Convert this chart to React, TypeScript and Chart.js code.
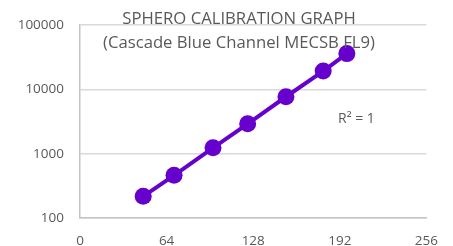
import React, { useEffect, useRef } from "react";
import { Chart, registerables } from "chart.js";

Chart.register(...registerables);

const channelValues = [46.7, 69.5, 98.3, 123.9, 152.2, 179.7, 197.2];
const mecsbValues = [217, 461, 1231, 2912, 7670, 19200, 35900];
const xTicks = [0, 64, 128, 192, 256];
const yTicks = [100, 1000, 10000, 100000];
const titleLines = ["SPHERO CALIBRATION GRAPH", "(Cascade Blue Channel MECSB FL9)"];
const rSquaredLabel = "R² = 1";

const FONT = "'Open Sans', sans-serif";
const TEXT = "#595959";
const PURPLE = "#6600cc";

const overlayPlugin = {
  id: "overlayText",
  afterDraw(chart: any) {
    const ctx = chart.ctx;
    ctx.save();
    ctx.fillStyle = TEXT;
    ctx.textAlign = "center";
    ctx.textBaseline = "middle";
    ctx.font = `16.7px ${FONT}`;
    ctx.fillText(titleLines[0], 239, 19);
    ctx.fillText(titleLines[1], 239, 43);
    ctx.font = `14px ${FONT}`;
    ctx.textAlign = "left";
    ctx.fillText(rSquaredLabel, 338, 119);
    ctx.restore();
  },
};

export default function App() {
  const ref = useRef<HTMLCanvasElement>(null);
  useEffect(() => {
    if (!ref.current) return;
    const chart = new Chart(ref.current, {
      type: "scatter",
      data: {
        datasets: [
          {
            data: channelValues.map((x, i) => ({ x, y: mecsbValues[i] })),
            showLine: true,
            borderColor: PURPLE,
            backgroundColor: PURPLE,
            borderWidth: 4,
            pointRadius: 8.5,
            pointHoverRadius: 8.5,
            pointBorderWidth: 0,
          },
        ],
      },
      options: {
        animation: false,
        responsive: false,
        layout: { padding: { top: 25, right: 16, left: 0, bottom: 0 } },
        plugins: { legend: { display: false }, tooltip: { enabled: false }, title: { display: false } },
        scales: {
          x: {
            type: "linear",
            min: 0,
            max: 256,
            afterBuildTicks: (s: any) => {
              s.ticks = xTicks.map((v) => ({ value: v }));
            },
            afterFit: (s: any) => {
              s.height = 28;
            },
            grid: { display: false, drawTicks: false },
            border: { display: true, color: "#c4c4c4", width: 1.5 },
            ticks: { color: TEXT, font: { family: FONT, size: 13.5 }, padding: 15, maxRotation: 0 },
          },
          y: {
            type: "logarithmic",
            min: 100,
            max: 100000,
            afterBuildTicks: (s: any) => {
              s.ticks = yTicks.map((v) => ({ value: v }));
            },
            afterFit: (s: any) => {
              s.width = 80;
            },
            grid: { color: "#d9d9d9", drawTicks: false, lineWidth: 1.5 },
            border: { display: true, color: "#c4c4c4", width: 1.5 },
            ticks: {
              color: TEXT,
              font: { family: FONT, size: 13.5 },
              padding: 16,
              callback: (v: any) => String(v),
            },
          },
        },
      },
      plugins: [overlayPlugin],
    });
    return () => chart.destroy();
  }, []);
  return (
    <div style={{ position: "fixed", left: 0, top: 0, width: 453, height: 246, background: "#fff" }}>
      <canvas ref={ref} width={453} height={246} style={{ width: 453, height: 246 }} />
    </div>
  );
}
